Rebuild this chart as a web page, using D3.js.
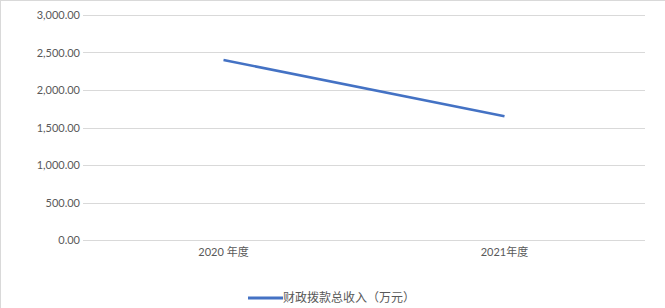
<!DOCTYPE html>
<html>
<head>
<meta charset="utf-8">
<script src="https://cdn.jsdelivr.net/npm/d3@7"></script>
<style>
  body { margin: 0; background: #fff; }
  svg { display: block; font-family: "Lato", "Noto Sans CJK SC", sans-serif; }
</style>
</head>
<body>
<script>
// data
var categories = ["2020 年度", "2021年度"];
var values = [2400, 1650];
var yTicks = [0, 500, 1000, 1500, 2000, 2500, 3000];
var seriesName = "财政拨款总收入（万元）";

var width = 665, height = 308;
var svg = d3.select("body").append("svg")
    .attr("width", width)
    .attr("height", height);

// chart border (right/bottom fall outside the window)
svg.append("rect")
    .attr("x", 0.5).attr("y", 0.5)
    .attr("width", width + 10).attr("height", height + 10)
    .attr("fill", "none")
    .attr("stroke", "#d9d9d9");

var x = d3.scaleBand().domain(categories).range([83, 645]);
var y = d3.scaleLinear().domain([0, 3000]).range([240, 15]);

// gridlines
svg.selectAll("line.grid")
    .data(yTicks)
    .enter().append("line")
    .attr("class", "grid")
    .attr("x1", 83).attr("x2", 645)
    .attr("y1", function(d) { return Math.round(y(d)) + 0.5; })
    .attr("y2", function(d) { return Math.round(y(d)) + 0.5; })
    .attr("stroke", "#d9d9d9")
    .attr("stroke-width", 1);

// y tick labels
var fmt = d3.format(",.2f");
svg.selectAll("text.ytick")
    .data(yTicks)
    .enter().append("text")
    .attr("class", "ytick")
    .attr("x", 80)
    .attr("y", function(d) { return y(d) + 4; })
    .attr("text-anchor", "end")
    .attr("font-size", 11)
    .attr("fill", "#595959")
    .text(function(d) { return fmt(d); });

// x labels
svg.selectAll("text.xtick")
    .data(categories)
    .enter().append("text")
    .attr("class", "xtick")
    .attr("x", function(d) { return x(d) + x.bandwidth() / 2; })
    .attr("y", 256)
    .attr("text-anchor", "middle")
    .attr("font-size", 11)
    .attr("fill", "#595959")
    .text(function(d) { return d; });

// series line
var line = d3.line()
    .x(function(d, i) { return x(categories[i]) + x.bandwidth() / 2; })
    .y(function(d) { return y(d); });

svg.append("path")
    .datum(values)
    .attr("d", line)
    .attr("fill", "none")
    .attr("stroke", "#4472c4")
    .attr("stroke-width", 2.5)
    .attr("stroke-linecap", "butt");

// legend
svg.append("line")
    .attr("x1", 248).attr("x2", 283)
    .attr("y1", 298).attr("y2", 298)
    .attr("stroke", "#4472c4")
    .attr("stroke-width", 3);

svg.append("text")
    .attr("x", 283)
    .attr("y", 302)
    .attr("font-size", 12)
    .attr("fill", "#595959")
    .text(seriesName);
</script>
</body>
</html>
